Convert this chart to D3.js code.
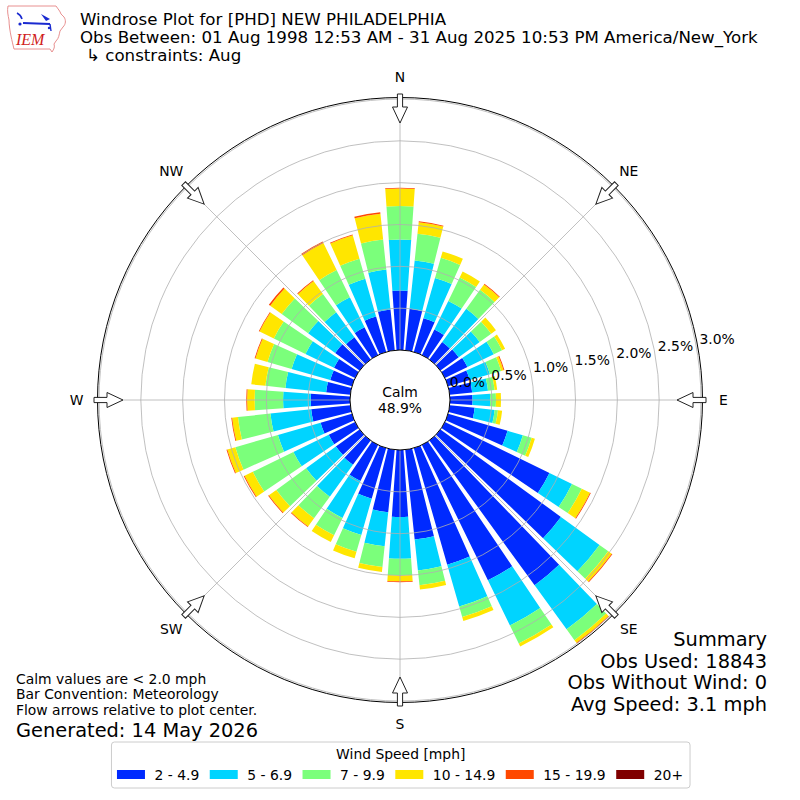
<!DOCTYPE html>
<html lang="en">
<head>
<meta charset="UTF-8">
<script src="https://d3js.org/d3.v7.min.js"></script>
<title>Windrose Plot for [PHD] NEW PHILADELPHIA</title>
<style>
  body { margin: 0; background: #fff; }
  svg text { font-family: "DejaVu Sans", sans-serif; fill: #000; }
</style>
</head>
<body>
<svg id="chart" width="800" height="800"></svg>
<script>
// direction bins (degrees, meteorological convention)
const directions = [0, 10, 20, 30, 40, 50, 60, 70, 80, 90, 100, 110, 120, 130, 140, 150, 160, 170,
                    180, 190, 200, 210, 220, 230, 240, 250, 260, 270, 280, 290, 300, 310, 320, 330, 340, 350];
const speedBins = ["2 - 4.9", "5 - 6.9", "7 - 9.9", "10 - 14.9", "15 - 19.9", "20+"];
const binColors = ["#002aff", "#00d4ff", "#7bff7b", "#ffe600", "#ff4800", "#800000"];

// frequency (%) per direction for each speed bin
const spd2to5   = [0.71, 0.50, 0.42, 0.34, 0.26, 0.27, 0.30, 0.27, 0.27, 0.27, 0.30, 0.74, 1.39, 1.78, 2.14, 1.80, 1.45, 1.08,
                   0.80, 0.75, 0.63, 0.48, 0.36, 0.35, 0.35, 0.39, 0.47, 0.47, 0.29, 0.27, 0.28, 0.36, 0.33, 0.37, 0.44, 0.49];
const spd5to7   = [0.61, 0.58, 0.50, 0.38, 0.49, 0.31, 0.35, 0.25, 0.19, 0.21, 0.24, 0.19, 0.30, 0.57, 0.65, 0.60, 0.52, 0.37,
                   0.50, 0.41, 0.45, 0.49, 0.47, 0.44, 0.47, 0.53, 0.49, 0.33, 0.49, 0.48, 0.38, 0.40, 0.37, 0.40, 0.47, 0.48];
const spd7to10  = [0.40, 0.32, 0.25, 0.31, 0.28, 0.17, 0.11, 0.14, 0.08, 0.07, 0.04, 0.11, 0.13, 0.13, 0.16, 0.24, 0.13, 0.18,
                   0.20, 0.25, 0.21, 0.23, 0.32, 0.44, 0.54, 0.53, 0.39, 0.34, 0.24, 0.30, 0.42, 0.39, 0.27, 0.36, 0.25, 0.36];
const spd10to15 = [0.21, 0.14, 0.08, 0.08, 0.08, 0.07, 0.04, 0.03, 0.03, 0.06, 0.05, 0.04, 0.11, 0.05, 0.04, 0.04, 0.05, 0.05,
                   0.07, 0.06, 0.08, 0.09, 0.12, 0.11, 0.11, 0.10, 0.07, 0.09, 0.17, 0.15, 0.19, 0.17, 0.19, 0.36, 0.29, 0.31];
const spd15to20 = [0.01, 0.01, 0.00, 0.00, 0.01, 0.00, 0.00, 0.01, 0.00, 0.00, 0.00, 0.00, 0.01, 0.01, 0.01, 0.00, 0.00, 0.00,
                   0.01, 0.00, 0.00, 0.00, 0.01, 0.01, 0.01, 0.01, 0.01, 0.01, 0.00, 0.01, 0.01, 0.02, 0.01, 0.02, 0.01, 0.02];
const spd20up   = [0, 0, 0, 0, 0, 0, 0, 0, 0, 0, 0, 0, 0, 0, 0, 0, 0, 0,
                   0, 0, 0, 0, 0, 0, 0, 0, 0, 0, 0, 0, 0, 0, 0, 0, 0, 0];

const radialTicks = [0.0, 0.5, 1.0, 1.5, 2.0, 2.5, 3.0];
const compassLabels = ["N", "NE", "E", "SE", "S", "SW", "W", "NW"];
const compassAngles = [0, 45, 90, 135, 180, 225, 270, 315];
const calmPct = "48.9%";

const titleLines = ["Windrose Plot for [PHD] NEW PHILADELPHIA",
                    "Obs Between: 01 Aug 1998 12:53 AM - 31 Aug 2025 10:53 PM America/New_York"];
const subTitle = "\u21b3 constraints: Aug";
const summaryLines = ["Summary", "Obs Used: 18843", "Obs Without Wind: 0", "Avg Speed: 3.1 mph"];
const noteLines = ["Calm values are < 2.0 mph", "Bar Convention: Meteorology", "Flow arrows relative to plot center."];
const generated = "Generated: 14 May 2026";

const width = 800, height = 800, cx = 400, cy = 400;
const svg = d3.select("#chart");
svg.append("rect").attr("width", width).attr("height", height).attr("fill", "#fff");

const r = d3.scaleLinear().domain([0, 3]).range([50, 301]);
const rad = d => d * Math.PI / 180;
const series = [spd2to5, spd5to7, spd7to10, spd10to15, spd15to20, spd20up];

// stack the bins per direction
const stacked = [];
directions.forEach((dir, i) => {
  let acc = 0;
  series.forEach((s, k) => {
    const y0 = acc;
    acc += s[i];
    if (s[i] > 0) stacked.push({ dir, k, y0, y1: acc });
  });
});

const plot = svg.append("g").attr("transform", `translate(${cx},${cy})`);
const arc = d3.arc();
const halfW = 4; // 0.8 of the 10 degree bin

plot.append("g").selectAll("path")
  .data(stacked)
  .join("path")
  .attr("d", d => arc({ innerRadius: r(d.y0), outerRadius: r(d.y1),
                        startAngle: rad(d.dir - halfW), endAngle: rad(d.dir + halfW) }))
  .attr("fill", d => binColors[d.k]);

// grid on top of bars
const grid = plot.append("g").attr("fill", "none").attr("stroke", "#b0b0b0").attr("stroke-width", 0.8);
grid.selectAll("circle")
  .data(radialTicks.filter(t => t > 0))
  .join("circle")
  .attr("r", d => r(d));
grid.selectAll("line")
  .data(compassAngles)
  .join("line")
  .attr("x1", d => r(0) * Math.sin(rad(d)))
  .attr("y1", d => -r(0) * Math.cos(rad(d)))
  .attr("x2", d => r(3) * Math.sin(rad(d)))
  .attr("y2", d => -r(3) * Math.cos(rad(d)));

// outer frame
plot.append("circle").attr("r", r(3) + 1.5).attr("fill", "none").attr("stroke", "#000").attr("stroke-width", 1);

// calm circle
plot.append("circle").attr("r", r(0)).attr("fill", "#fff").attr("stroke", "#000").attr("stroke-width", 1);
plot.append("text").attr("x", 0).attr("y", -8).attr("text-anchor", "middle").attr("dominant-baseline", "central")
  .attr("font-size", 13.9).text("Calm");
plot.append("text").attr("x", 0).attr("y", 8).attr("text-anchor", "middle").attr("dominant-baseline", "central")
  .attr("font-size", 13.9).text(calmPct);

// radial tick labels
plot.append("g").selectAll("text")
  .data(radialTicks)
  .join("text")
  .attr("x", d => r(d) * 0.995)
  .attr("y", d => -18.3 - 0.17 * (r(d) - 50))
  .attr("dominant-baseline", "central")
  .attr("font-size", 13.9)
  .text(d => d.toFixed(1) + "%");

// flow arrows pointing to plot center
const arrowPts = [[277, 0], [293, -7.5], [293, -2.6], [306, -2.6], [306, 2.6], [293, 2.6], [293, 7.5]];
plot.append("g").selectAll("polygon")
  .data(compassAngles)
  .join("polygon")
  .attr("points", arrowPts.map(p => p.join(",")).join(" "))
  .attr("transform", d => `rotate(${d - 90})`)
  .attr("fill", "#fff")
  .attr("stroke", "#222")
  .attr("stroke-width", 1);

// compass labels
plot.append("g").selectAll("text")
  .data(compassLabels)
  .join("text")
  .attr("x", (d, i) => 323.5 * Math.sin(rad(compassAngles[i])))
  .attr("y", (d, i) => -323.5 * Math.cos(rad(compassAngles[i])))
  .attr("text-anchor", "middle")
  .attr("dominant-baseline", "central")
  .attr("font-size", 13.9)
  .text(d => d);

// titles
svg.selectAll("text.title")
  .data(titleLines)
  .join("text")
  .attr("class", "title")
  .attr("x", 80)
  .attr("y", (d, i) => 25 + i * 18)
  .attr("font-size", 16.67)
  .text(d => d);
svg.append("text").attr("x", 86).attr("y", 61).attr("font-size", 16.67).text(subTitle);

// IEM logo
const logo = svg.append("g");
logo.append("path")
  .attr("d", "M8,6 L56,6 C58,9 60,11 61,14 L64,17 C66,20 66,24 63,27 L60,31 C59,35 59,38 56,41 L54,44 C55,47 54,49 52,52 L50,49 L14,49 C13,45 12,41 11,36 C10,31 9,25 9,20 C8,15 7,11 8,6 Z")
  .attr("fill", "none").attr("stroke", "#e89090").attr("stroke-width", 1);
logo.append("path").attr("d", "M17,13 C19,14 21,16 22,19").attr("fill", "none").attr("stroke", "#1a2ad0").attr("stroke-width", 1.6);
logo.append("circle").attr("cx", 20).attr("cy", 24).attr("r", 1.6).attr("fill", "#1a2ad0");
logo.append("path").attr("d", "M23,23 L50,24").attr("stroke", "#1a2ad0").attr("stroke-width", 2.2);
logo.append("path").attr("d", "M41,14 L50,19 L46,21 Z").attr("fill", "#1a2ad0");
logo.append("path").attr("d", "M50,24 L51,31").attr("stroke", "#1a2ad0").attr("stroke-width", 1.4);
logo.append("circle").attr("cx", 49).attr("cy", 28).attr("r", 1.2).attr("fill", "#1a2ad0");
logo.append("text").attr("x", 16).attr("y", 45)
  .style("font-family", "'Liberation Serif', 'DejaVu Serif', serif")
  .attr("font-style", "italic").attr("font-size", 16).style("fill", "#d02020")
  .text("IEM");

// summary block
svg.selectAll("text.summary")
  .data(summaryLines)
  .join("text")
  .attr("class", "summary")
  .attr("x", 767)
  .attr("y", (d, i) => 646 + i * 21.7)
  .attr("text-anchor", "end")
  .attr("font-size", 19.4)
  .text(d => d);

// notes
svg.selectAll("text.note")
  .data(noteLines)
  .join("text")
  .attr("class", "note")
  .attr("x", 16)
  .attr("y", (d, i) => 683.5 + i * 15.8)
  .attr("font-size", 13.9)
  .text(d => d);
svg.append("text").attr("x", 16).attr("y", 737).attr("font-size", 19.4).text(generated);

// legend
const legend = svg.append("g");
const lgFont = 13.9, patchW = 28, patchH = 9, pad = 9.5, colGap = 10.5;
const labelNodes = legend.selectAll("text.lg")
  .data(speedBins)
  .join("text")
  .attr("class", "lg")
  .attr("font-size", lgFont)
  .attr("dominant-baseline", "central")
  .attr("y", 774.5)
  .text(d => d);
const widths = labelNodes.nodes().map(n => n.getComputedTextLength());
const total = d3.sum(widths) + speedBins.length * (patchW + pad) + (speedBins.length - 1) * colGap;
let xpos = 400 - total / 2;
const starts = [];
widths.forEach(w => { starts.push(xpos); xpos += patchW + pad + w + colGap; });
const left = starts[0] - 5.5, right = xpos - colGap + 7;
legend.insert("rect", ":first-child")
  .attr("x", left).attr("y", 742).attr("width", right - left).attr("height", 46)
  .attr("rx", 3).attr("fill", "#fff").attr("stroke", "#cccccc").attr("stroke-width", 1);
labelNodes.attr("x", (d, i) => starts[i] + patchW + pad);
legend.selectAll("rect.patch")
  .data(speedBins)
  .join("rect")
  .attr("class", "patch")
  .attr("x", (d, i) => starts[i])
  .attr("y", 770)
  .attr("width", patchW)
  .attr("height", patchH)
  .attr("fill", (d, i) => binColors[i]);
legend.append("text")
  .attr("x", (left + right) / 2)
  .attr("y", 754)
  .attr("text-anchor", "middle")
  .attr("dominant-baseline", "central")
  .attr("font-size", lgFont)
  .text("Wind Speed [mph]");
</script>
</body>
</html>
